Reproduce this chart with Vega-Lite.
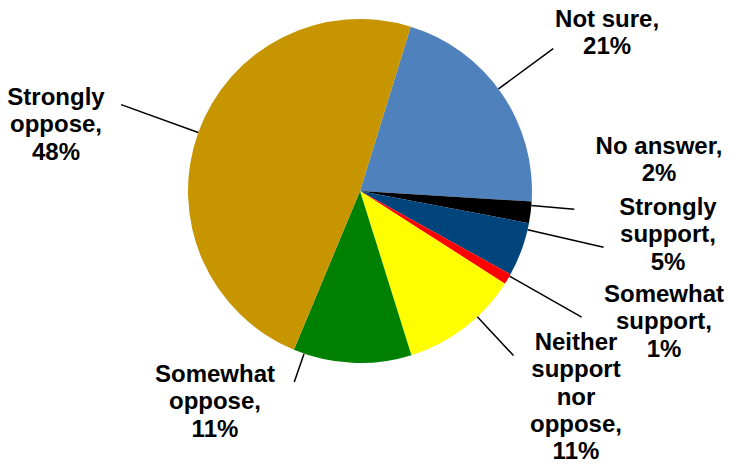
{
  "$schema": "https://vega.github.io/schema/vega-lite/v6.json",
  "width": 720,
  "height": 382,
  "autosize": "none",
  "padding": {"left": 0, "top": 0, "right": 10, "bottom": 82},
  "background": "white",
  "view": {"stroke": null},
  "config": {
    "text": {"font": "Liberation Sans", "fontWeight": "bold", "fontSize": 24, "lineHeight": 27.3, "align": "center", "baseline": "middle", "lineBreak": "\n", "color": "black"},
    "arc": {"stroke": null}
  },
  "data": {
    "values": [
      {"category": "Not sure", "value": 21, "order": 1, "label": "Not sure,\n21%"},
      {"category": "No answer", "value": 2, "order": 2, "label": "No answer,\n2%"},
      {"category": "Strongly support", "value": 5, "order": 3, "label": "Strongly\nsupport,\n5%"},
      {"category": "Somewhat support", "value": 1, "order": 4, "label": "Somewhat\nsupport,\n1%"},
      {"category": "Neither support nor oppose", "value": 11, "order": 5, "label": "Neither\nsupport\nnor\noppose,\n11%"},
      {"category": "Somewhat oppose", "value": 11, "order": 6, "label": "Somewhat\noppose,\n11%"},
      {"category": "Strongly oppose", "value": 48, "order": 7, "label": "Strongly\noppose,\n48%"}
    ]
  },
  "encoding": {
    "theta": {"field": "value", "type": "quantitative", "stack": true, "scale": {"domain": [0, 99], "range": [0.2993, 6.5825]}},
    "order": {"field": "order", "type": "quantitative"}
  },
  "layer": [
    {
      "mark": {"type": "arc", "outerRadius": 172},
      "encoding": {
        "color": {"field": "category", "type": "nominal", "legend": null,
          "scale": {"domain": ["Not sure", "No answer", "Strongly support", "Somewhat support", "Neither support nor oppose", "Somewhat oppose", "Strongly oppose"],
                    "range": ["#4F81BD", "#000000", "#00447C", "#FF0000", "#FFFF00", "#008000", "#C69500"]}}
      }
    },
    {
      "layer": [
        {"mark": {"type": "arc", "innerRadius": 172, "outerRadius": 240, "padAngle": 3.1, "filled": false, "stroke": "black", "strokeWidth": 1.5, "thetaOffset": -0.03, "theta2Offset": -0.03},
         "encoding": {"strokeOpacity": {"condition": {"test": "datum.category === 'Not sure'", "value": 1}, "value": 0}}},
        {"mark": {"type": "text", "radius": 300.4, "thetaOffset": 0},
         "encoding": {"text": {"condition": {"test": "datum.category === 'Not sure'", "field": "label"}, "value": ""}}}
      ]
    },
    {
      "layer": [
        {"mark": {"type": "arc", "innerRadius": 172, "outerRadius": 215, "padAngle": 3.1, "filled": false, "stroke": "black", "strokeWidth": 1.5, "thetaOffset": -0.04, "theta2Offset": -0.04},
         "encoding": {"strokeOpacity": {"condition": {"test": "datum.category === 'No answer'", "value": 1}, "value": 0}}},
        {"mark": {"type": "text", "radius": 302.2, "thetaOffset": -0.2709},
         "encoding": {"text": {"condition": {"test": "datum.category === 'No answer'", "field": "label"}, "value": ""}}}
      ]
    },
    {
      "layer": [
        {"mark": {"type": "arc", "innerRadius": 172, "outerRadius": 250, "padAngle": 3.1, "filled": false, "stroke": "black", "strokeWidth": 1.5, "thetaOffset": -0.12, "theta2Offset": -0.12},
         "encoding": {"strokeOpacity": {"condition": {"test": "datum.category === 'Strongly support'", "value": 1}, "value": 0}}},
        {"mark": {"type": "text", "radius": 308.5, "thetaOffset": -0.2917},
         "encoding": {"text": {"condition": {"test": "datum.category === 'Strongly support'", "field": "label"}, "value": ""}}}
      ]
    },
    {
      "layer": [
        {"mark": {"type": "arc", "innerRadius": 172, "outerRadius": 255, "padAngle": 3.1, "filled": false, "stroke": "black", "strokeWidth": 1.5, "thetaOffset": -0.02, "theta2Offset": -0.02},
         "encoding": {"strokeOpacity": {"condition": {"test": "datum.category === 'Somewhat support'", "value": 1}, "value": 0}}},
        {"mark": {"type": "text", "radius": 321.3, "thetaOffset": -0.2075},
         "encoding": {"text": {"condition": {"test": "datum.category === 'Somewhat support'", "field": "label"}, "value": ""}}}
      ]
    },
    {
      "layer": [
        {"mark": {"type": "arc", "innerRadius": 172, "outerRadius": 225, "padAngle": 3.1, "filled": false, "stroke": "black", "strokeWidth": 1.5, "thetaOffset": -0.098, "theta2Offset": -0.098},
         "encoding": {"strokeOpacity": {"condition": {"test": "datum.category === 'Neither support nor oppose'", "value": 1}, "value": 0}}},
        {"mark": {"type": "text", "radius": 264.1, "thetaOffset": -0.3049},
         "encoding": {"text": {"condition": {"test": "datum.category === 'Neither support nor oppose'", "field": "label"}, "value": ""}}}
      ]
    },
    {
      "layer": [
        {"mark": {"type": "arc", "innerRadius": 172, "outerRadius": 202, "padAngle": 3.1, "filled": false, "stroke": "black", "strokeWidth": 1.5, "thetaOffset": 0.286, "theta2Offset": 0.286},
         "encoding": {"strokeOpacity": {"condition": {"test": "datum.category === 'Somewhat oppose'", "value": 1}, "value": 0}}},
        {"mark": {"type": "text", "radius": 234.3, "thetaOffset": 0.622},
         "encoding": {"text": {"condition": {"test": "datum.category === 'Somewhat oppose'", "field": "label"}, "value": ""}}}
      ]
    },
    {
      "layer": [
        {"mark": {"type": "arc", "innerRadius": 172, "outerRadius": 254, "padAngle": 3.1, "filled": false, "stroke": "black", "strokeWidth": 1.5, "thetaOffset": 0, "theta2Offset": 0},
         "encoding": {"strokeOpacity": {"condition": {"test": "datum.category === 'Strongly oppose'", "value": 1}, "value": 0}}},
        {"mark": {"type": "text", "radius": 317.9, "thetaOffset": -0.0501},
         "encoding": {"text": {"condition": {"test": "datum.category === 'Strongly oppose'", "field": "label"}, "value": ""}}}
      ]
    }
  ]
}
